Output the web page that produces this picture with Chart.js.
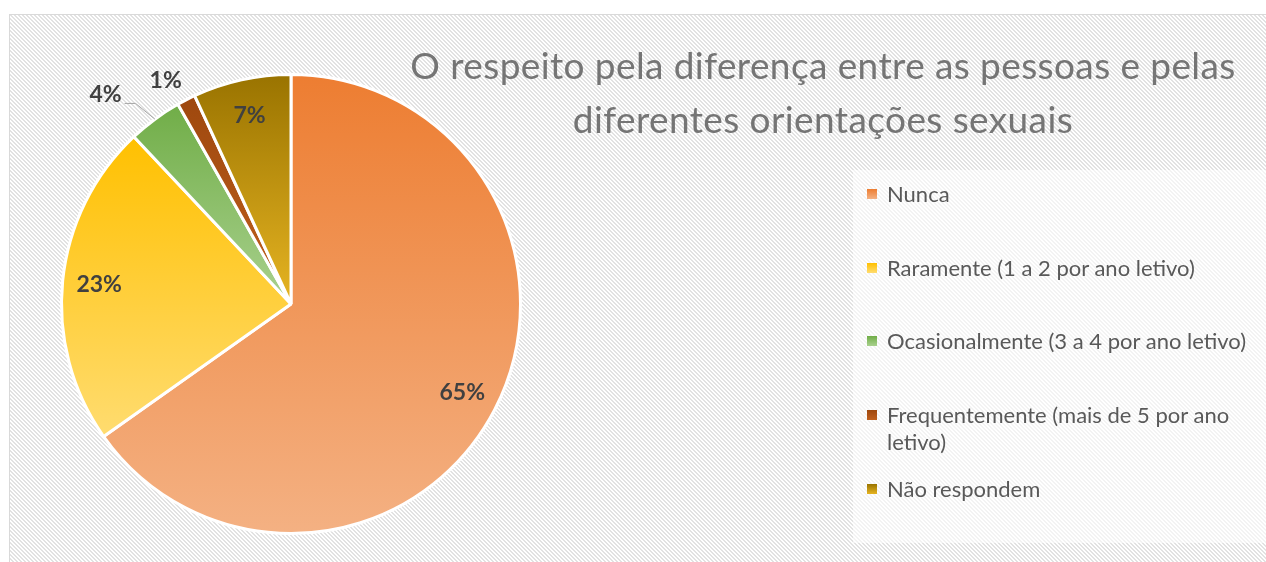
<!DOCTYPE html>
<html lang="pt">
<head>
    <meta charset="UTF-8">
    <title>O respeito pela diferença entre as pessoas e pelas diferentes orientações sexuais</title>
    <script src="https://cdn.jsdelivr.net/npm/chart.js"></script>
    <style>
        html, body {
            margin: 0;
            padding: 0;
            background: #fff;
        }
        body {
            position: relative;
            width: 1266px;
            height: 562px;
            overflow: hidden;
            font-family: Lato, 'Open Sans', sans-serif;
        }
        .frame {
            position: absolute;
            left: 9px;
            top: 14px;
            width: 1270px;
            height: 560px;
            border: 1px solid #d9d9d9;
            box-sizing: border-box;
        }
        .legend-box {
            position: absolute;
            left: 853px;
            top: 170px;
            width: 420px;
            height: 373px;
            background: rgba(255, 255, 255, 0.6);
        }
        .chart-wrap {
            position: absolute;
            left: 0;
            top: 0;
            width: 1266px;
            height: 562px;
        }
        .title {
            position: absolute;
            left: 380px;
            width: 886px;
            top: 38px;
            text-align: center;
            color: #757575;
            font-size: 37px;
            font-weight: 400;
            letter-spacing: 0.4px;
            line-height: 54px;
        }
        #legend {
            position: absolute;
            left: 867px;
            top: 180px;
            width: 392px;
            margin: 0;
            padding: 0;
            list-style: none;
        }
        #legend li {
            display: flex;
            align-items: flex-start;
            height: 73.7px;
            font-size: 22px;
            line-height: 27px;
            color: #595959;
        }
        #legend .mark {
            flex: none;
            width: 10px;
            height: 10px;
            margin-top: 9px;
            margin-right: 10px;
        }
    </style>
</head>
<body>
    <div class="frame" id="frame"></div>
    <div class="legend-box"></div>
    <div class="chart-wrap">
        <canvas id="pieChart"></canvas>
    </div>
    <div class="title">O respeito pela diferença entre as pessoas e pelas<br>diferentes orientações sexuais</div>
    <ul id="legend"></ul>

    <script>
        // dados
        const categories = [
            'Nunca',
            'Raramente (1 a 2 por ano letivo)',
            'Ocasionalmente (3 a 4 por ano letivo)',
            'Frequentemente (mais de 5 por ano letivo)',
            'Não respondem'
        ];
        const values = [65.2, 22.8, 3.8, 1.3, 6.9];

        // cores (topo -> base do gradiente)
        const topColors = ['#ED7D31', '#FFC000', '#70AD47', '#9E480E', '#997300'];
        const bottomColors = ['#F4B183', '#FFDC70', '#A9D18E', '#C0601E', '#E6B422'];

        const total = values.reduce((a, b) => a + b, 0);

        // fundo listrado
        const tile = document.createElement('canvas');
        tile.width = tile.height = 4;
        const tctx = tile.getContext('2d');
        tctx.fillStyle = '#fff';
        tctx.fillRect(0, 0, 4, 4);
        tctx.fillStyle = '#e2e2e2';
        for (let y = 0; y < 4; y++) {
            for (let x = 0; x < 4; x++) {
                if ((((x - y) % 4) + 4) % 4 < 2) tctx.fillRect(x, y, 1, 1);
            }
        }
        document.getElementById('frame').style.backgroundImage = 'url(' + tile.toDataURL() + ')';

        // gradiente vertical por fatia
        function sliceGradient(context) {
            const i = context.dataIndex;
            const chart = context.chart;
            const area = chart.chartArea;
            if (!area || i === undefined) return topColors[i || 0];
            const cx = (area.left + area.right) / 2;
            const cy = (area.top + area.bottom) / 2;
            const r = Math.min(area.right - area.left, area.bottom - area.top) / 2;
            let before = 0;
            for (let j = 0; j < i; j++) before += values[j];
            const a0 = -Math.PI / 2 + 2 * Math.PI * before / total;
            const a1 = a0 + 2 * Math.PI * values[i] / total;
            const ys = [cy, cy + r * Math.sin(a0), cy + r * Math.sin(a1)];
            if (a0 <= Math.PI / 2 && a1 >= Math.PI / 2) ys.push(cy + r);
            if (a0 <= -Math.PI / 2 + 1e-6 || a1 >= 1.5 * Math.PI - 1e-6) ys.push(cy - r);
            const g = chart.ctx.createLinearGradient(0, Math.min(...ys), 0, Math.max(...ys));
            g.addColorStop(0, topColors[i]);
            g.addColorStop(1, bottomColors[i]);
            return g;
        }

        // rótulos de percentagem
        const percentLabels = {
            id: 'percentLabels',
            afterDatasetsDraw(chart) {
                const ctx = chart.ctx;
                const meta = chart.getDatasetMeta(0);
                ctx.save();
                ctx.font = 'bold 23px Lato, sans-serif';
                ctx.fillStyle = '#404040';
                ctx.textAlign = 'center';
                ctx.textBaseline = 'middle';
                let placed = null;
                for (let i = meta.data.length - 1; i >= 0; i--) {
                    const arc = meta.data[i];
                    const p = arc.getProps(['x', 'y', 'startAngle', 'endAngle', 'outerRadius'], true);
                    const mid = (p.startAngle + p.endAngle) / 2;
                    const share = values[i] / total;
                    const text = Math.round(share * 100) + '%';
                    const w = ctx.measureText(text).width;
                    if (share >= 0.05) {
                        const d = p.outerRadius * 0.84;
                        ctx.fillText(text, p.x + Math.cos(mid) * d, p.y + Math.sin(mid) * d);
                        continue;
                    }
                    const d = p.outerRadius * 1.1;
                    let lx = p.x + Math.cos(mid) * d - 10;
                    let ly = p.y + Math.sin(mid) * d + 1;
                    if (placed && lx + w / 2 > placed.left - 6 && Math.abs(ly - placed.y) < 26) {
                        lx = placed.left - 28 - w / 2;
                        ly = placed.y + 14;
                        // linha de chamada
                        const sx = lx + w / 2 + 3;
                        const sy = ly + 9;
                        ctx.beginPath();
                        ctx.strokeStyle = '#a6a6a6';
                        ctx.lineWidth = 1;
                        ctx.moveTo(sx, sy);
                        ctx.lineTo(sx + 11, sy);
                        ctx.lineTo(p.x + Math.cos(mid) * p.outerRadius, p.y + Math.sin(mid) * p.outerRadius);
                        ctx.stroke();
                    }
                    ctx.fillText(text, lx, ly);
                    placed = { left: lx - w / 2, y: ly };
                }
                ctx.restore();
            }
        };

        new Chart(document.getElementById('pieChart'), {
            type: 'pie',
            data: {
                labels: categories,
                datasets: [{
                    data: values,
                    backgroundColor: sliceGradient,
                    borderColor: '#ffffff',
                    borderWidth: 3,
                    offset: 0,
                    hoverOffset: 0
                }]
            },
            options: {
                responsive: true,
                maintainAspectRatio: false,
                animation: false,
                layout: {
                    padding: { left: 60, right: 744, top: 73, bottom: 27 }
                },
                plugins: {
                    legend: { display: false },
                    title: { display: false },
                    tooltip: { enabled: false }
                }
            },
            plugins: [percentLabels]
        });

        // legenda
        const legend = document.getElementById('legend');
        categories.forEach((name, i) => {
            const li = document.createElement('li');
            const mark = document.createElement('span');
            mark.className = 'mark';
            mark.style.background = 'linear-gradient(' + topColors[i] + ', ' + bottomColors[i] + ')';
            const label = document.createElement('span');
            label.textContent = name;
            li.appendChild(mark);
            li.appendChild(label);
            legend.appendChild(li);
        });
    </script>
</body>
</html>
